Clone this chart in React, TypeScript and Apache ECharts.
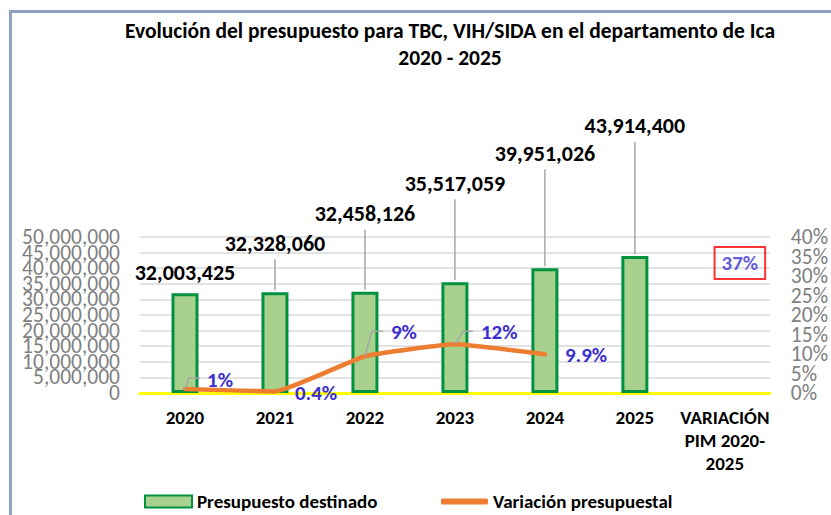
import React, { useEffect, useRef } from 'react';
import * as echarts from 'echarts';

const categories = ['2020', '2021', '2022', '2023', '2024', '2025', 'VARIACIÓN\nPIM 2020-\n2025'];
const budget = [32003425, 32328060, 32458126, 35517059, 39951026, 43914400];
const variation = [1.01, 0.4, 9.42, 12.48, 9.92];
const variationLabels = ['1%', '0.4%', '9%', '12%', '9.9%'];
const totalVariation = 37.2;
const totalVariationLabel = '37%';
const titleLines = ['Evolución del presupuesto para TBC, VIH/SIDA en el departamento de Ica', '2020 - 2025'];
const seriesNames = ['Presupuesto destinado', 'Variación presupuestal'];
const leftAxis = { min: 0, max: 50000000, step: 5000000 };
const rightAxis = { min: 0, max: 40, step: 5 };

// label layout (pixels, not data)
const barLabelRise = [21, 49, 78, 99, 115, 130];
const lineLabelLayout = [
  { dx: 22, dy: -9, leader: [[0, 0], [4, -11], [15, -11]] },
  { dx: 20, dy: 2, leader: null },
  { dx: 26, dy: -24, leader: [[0, 0], [7, -25], [18, -25]] },
  { dx: 26, dy: -12, leader: [[0, 0], [8, -13], [18, -13]] },
  { dx: 20, dy: 1, leader: null },
];

const FONT = 'Carlito, Lato, sans-serif';

export default function App() {
  const ref = useRef<HTMLDivElement>(null);
  useEffect(() => {
    if (!ref.current) return;
    const chart = echarts.init(ref.current, undefined, { renderer: 'svg' });
    const fmt = (v: number) => v.toLocaleString('en-US');
    const isOdd = (v: number, step: number) => Math.round(v / step) % 2 === 1;
    const legendText = { fontFamily: FONT, fontSize: 19, fontWeight: 'bold', color: '#000' };
    const axisLabelBase = { color: '#7F7F7F', fontSize: 21.5, fontFamily: FONT };
    const noLine = { axisLine: { show: false }, axisTick: { show: false } };
    chart.setOption({
      animation: false,
      backgroundColor: '#ffffff',
      textStyle: { fontFamily: FONT },
      graphic: [
        {
          type: 'rect',
          shape: { x: 10.5, y: 11.5, width: 1000, height: 1000 },
          style: { fill: 'none', stroke: '#8EA3C1', lineWidth: 3 },
          silent: true,
        },
        {
          type: 'text',
          x: 450,
          y: 31,
          style: { text: titleLines[0], align: 'center', verticalAlign: 'middle', fontFamily: FONT, fontSize: 21.5, fontWeight: 'bold', fill: '#000' },
        },
        {
          type: 'text',
          x: 450,
          y: 58,
          style: { text: titleLines[1], align: 'center', verticalAlign: 'middle', fontFamily: FONT, fontSize: 21.5, fontWeight: 'bold', fill: '#000' },
        },
      ],
      grid: { left: 140, right: 58, top: 237, bottom: 122 },
      legend: [
        {
          left: 139,
          top: 487,
          itemWidth: 47,
          itemHeight: 12,
          textStyle: legendText,
          data: [{ name: seriesNames[0], icon: 'rect' }],
        },
        {
          left: 436,
          top: 487,
          itemWidth: 47,
          itemHeight: 6,
          textStyle: legendText,
          data: [{ name: seriesNames[1], icon: 'roundRect' }],
        },
      ],
      xAxis: {
        type: 'category',
        data: categories,
        axisLine: { lineStyle: { color: '#FFFF00', width: 3 } },
        axisTick: { show: false },
        axisLabel: { interval: 0, color: '#000', fontWeight: 'bold', fontSize: 19, lineHeight: 23, margin: 13, fontFamily: FONT },
      },
      yAxis: [
        // 0: main left axis (odd-step labels + gridlines)
        {
          type: 'value',
          position: 'left',
          min: leftAxis.min,
          max: leftAxis.max,
          interval: leftAxis.step,
          ...noLine,
          axisLabel: { ...axisLabelBase, margin: 20, formatter: (v: number) => (isOdd(v, leftAxis.step) ? fmt(v) : '') },
          splitLine: { lineStyle: { color: '#D9D9D9', width: 1.5 } },
        },
        // 1: main right axis (odd-step labels)
        {
          type: 'value',
          position: 'right',
          min: rightAxis.min,
          max: rightAxis.max,
          interval: rightAxis.step,
          ...noLine,
          axisLabel: { ...axisLabelBase, margin: 21, formatter: (v: number) => (isOdd(v, rightAxis.step) ? v + '%' : '') },
          splitLine: { show: false },
        },
        // 2: left axis even-step labels
        {
          type: 'value',
          position: 'left',
          min: leftAxis.min,
          max: leftAxis.max,
          interval: leftAxis.step * 2,
          ...noLine,
          axisLabel: { ...axisLabelBase, margin: 20, formatter: (v: number) => fmt(v) },
          splitLine: { show: false },
        },
        // 3: right axis even-step labels
        {
          type: 'value',
          position: 'right',
          min: rightAxis.min,
          max: rightAxis.max,
          interval: rightAxis.step * 2,
          ...noLine,
          axisLabel: { ...axisLabelBase, margin: 21, formatter: '{value}%' },
          splitLine: { show: false },
        },
      ],
      series: [
        {
          name: seriesNames[0],
          type: 'bar',
          data: budget,
          barWidth: 27,
          itemStyle: { color: '#A9D18E', borderColor: '#00923F', borderWidth: 3 },
        },
        {
          name: seriesNames[1],
          type: 'line',
          yAxisIndex: 1,
          data: variation,
          smooth: 0.12,
          symbol: 'none',
          color: '#ED7D31',
          lineStyle: { color: '#ED7D31', width: 4.5, cap: 'round', join: 'round' },
          z: 3,
        },
        {
          type: 'custom',
          name: 'barLabels',
          clip: false,
          z: 4,
          data: budget.map((v, i) => [i, v]),
          renderItem: (params: any, api: any) => {
            const i = api.value(0);
            const v = api.value(1);
            const p = api.coord([i, v]);
            const rise = barLabelRise[i];
            const ty = p[1] - rise;
            const children: any[] = [];
            if (rise > 30) {
              children.push({
                type: 'line',
                shape: { x1: p[0], y1: p[1] - 2, x2: p[0], y2: ty + 16 },
                style: { stroke: '#A6A6A6', lineWidth: 1.5 },
              });
            }
            children.push({
              type: 'text',
              x: p[0],
              y: ty,
              style: { text: fmt(v), align: 'center', verticalAlign: 'middle', fontFamily: FONT, fontSize: 22, fontWeight: 'bold', fill: '#000' },
            });
            return { type: 'group', children };
          },
        },
        {
          type: 'custom',
          name: 'lineLabels',
          yAxisIndex: 1,
          clip: false,
          z: 5,
          data: variation.map((v, i) => [i, v]),
          renderItem: (params: any, api: any) => {
            const i = api.value(0);
            const v = api.value(1);
            const p = api.coord([i, v]);
            const lay = lineLabelLayout[i];
            const children: any[] = [];
            if (lay.leader) {
              children.push({
                type: 'polyline',
                shape: { points: lay.leader.map((q) => [p[0] + q[0], p[1] + q[1]]) },
                style: { stroke: '#A6A6A6', lineWidth: 1.5, fill: 'none' },
              });
            }
            children.push({
              type: 'text',
              x: p[0] + lay.dx,
              y: p[1] + lay.dy,
              style: { text: variationLabels[i], align: 'left', verticalAlign: 'middle', fontFamily: FONT, fontSize: 21, fontWeight: 'bold', fill: '#3B2FD0' },
            });
            return { type: 'group', children };
          },
        },
        {
          type: 'scatter',
          name: 'total',
          yAxisIndex: 1,
          data: [[6, totalVariation]],
          symbolSize: 1,
          itemStyle: { color: 'rgba(0,0,0,0)' },
          label: {
            show: true,
            position: 'inside',
            offset: [15, 15],
            formatter: totalVariationLabel,
            color: '#3B2FD0',
            fontFamily: FONT,
            fontSize: 21,
            fontWeight: 'bold',
            borderColor: '#FF0000',
            borderWidth: 2,
            padding: [6, 7, 5, 7],
          },
        },
      ],
    });
    return () => chart.dispose();
  }, []);
  return <div ref={ref} style={{ position: 'absolute', left: 0, top: 0, width: 831, height: 515 }} />;
}
